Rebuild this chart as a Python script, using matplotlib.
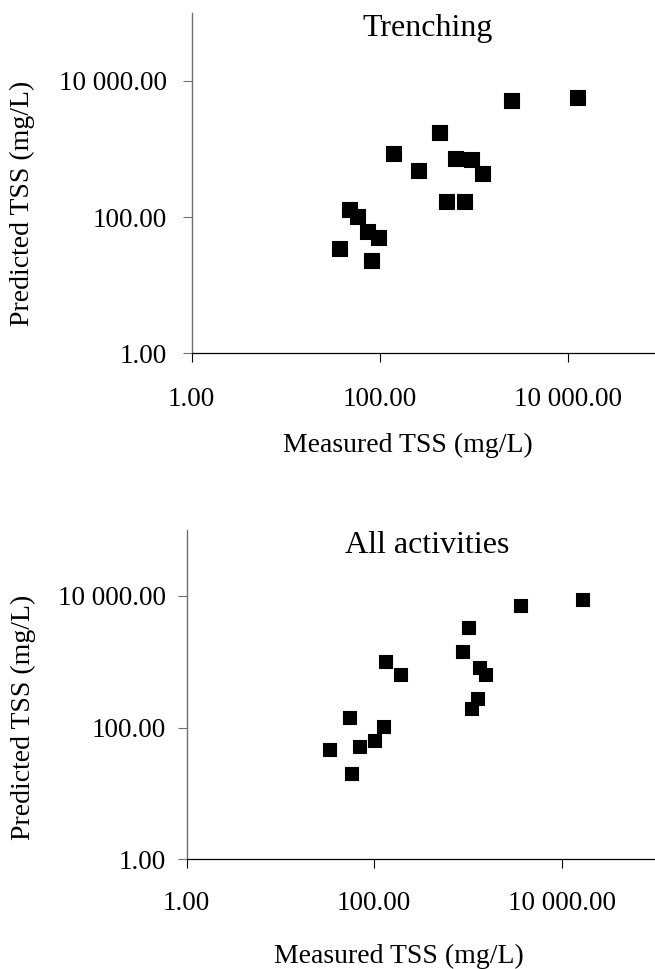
import numpy as np
import matplotlib
matplotlib.use("Agg")
import matplotlib.pyplot as plt
from matplotlib.ticker import FuncFormatter, NullLocator

# Trenching (top panel)
trench_measured  = [38, 48, 58, 75, 98, 83, 140, 261, 435, 644, 946, 1237, 521, 809, 2515, 12740]
trench_predicted = [34, 129, 99, 61, 50, 23, 845, 482, 1739, 700, 677, 430, 165, 165, 5056, 5536]

# All activities (bottom panel)
all_measured  = [34, 55, 57.5, 71, 103, 127, 134, 193, 886, 1033, 1344, 1571, 1280, 1097, 3656, 16870]
all_predicted = [46, 140, 20, 50, 62, 102, 986, 632, 1429, 3274, 798, 632, 276, 190, 6900, 8630]

tick_vals = [1, 100, 10000]
panel_titles = ["Trenching", "All activities"]
x_label = "Measured TSS (mg/L)"
y_label = "Predicted TSS (mg/L)"

plt.rcParams['font.family'] = ['Liberation Serif', 'DejaVu Serif']

W, H = 655, 969
fig = plt.figure(figsize=(W / 100, H / 100), dpi=100)


def px(x, y):
    return x / W, 1 - y / H


def fmt(v, pos):
    return "{:,.2f}".format(v).replace(",", " ")


def make_panel(rect, xs, ys, title, title_xy, ylab_xy, xlab_xy, msize, xpad, ypad):
    ax = fig.add_axes(rect)
    ax.set_xscale("log")
    ax.set_yscale("log")
    ax.set_xlim(1, 1e5)
    ax.set_ylim(1, 1e5)
    ax.plot(xs, ys, linestyle="none", marker="s", color="black",
            markersize=msize, markeredgewidth=1.5, markeredgecolor="black",
            markerfacecolor="black", clip_on=False)
    for a in (ax.xaxis, ax.yaxis):
        a.set_major_locator(plt.FixedLocator(tick_vals))
        a.set_minor_locator(NullLocator())
        a.set_major_formatter(FuncFormatter(fmt))
    ax.spines["top"].set_visible(False)
    ax.spines["right"].set_visible(False)
    ax.spines["left"].set_color("#707070")
    ax.spines["left"].set_linewidth(1.0)
    ax.spines["bottom"].set_color("black")
    ax.spines["bottom"].set_linewidth(0.9)
    ax.tick_params(axis="x", direction="out", length=6.5, width=0.8,
                   colors="black", labelsize=19.5, pad=xpad)
    ax.tick_params(axis="y", direction="out", length=6.5, width=0.8,
                   color="#707070", labelcolor="black", labelsize=19.5, pad=ypad)
    fig.text(*px(*title_xy), title, ha="center", va="baseline", fontsize=23)
    fig.text(*px(*ylab_xy), y_label, ha="center", va="center",
             rotation=90, fontsize=20)
    fig.text(*px(*xlab_xy), x_label, ha="center", va="baseline", fontsize=20)
    return ax


make_panel([191.7 / W, (H - 353.3) / H, 470.5 / W, (353.3 - 12.7) / H],
           trench_measured, trench_predicted, panel_titles[0],
           (428, 36), (22.5, 203), (408, 452), 10.5, 18, 11.5)

make_panel([186.7 / W, (H - 859.3) / H, 468.75 / W, (859.3 - 530) / H],
           all_measured, all_predicted, panel_titles[1],
           (427, 552.7), (23, 717.5), (399, 962.7), 9.0, 16, 8.4)

fig.savefig("out.png", dpi=100)
